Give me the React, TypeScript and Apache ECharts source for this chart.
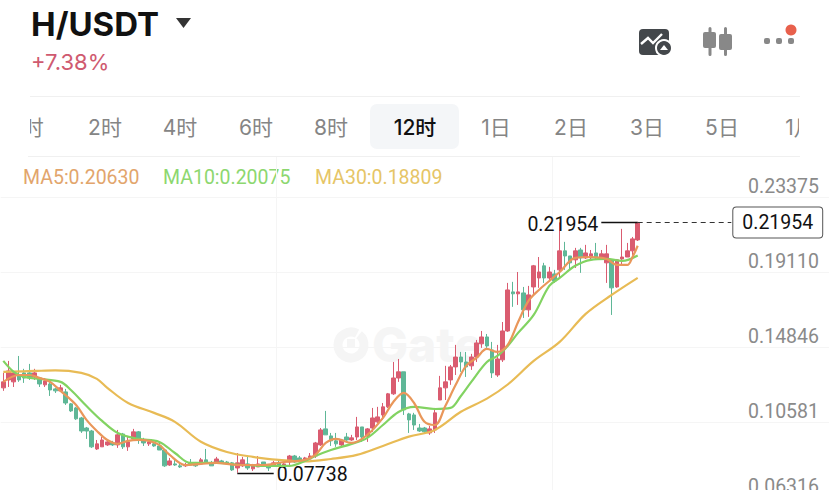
import { useEffect, useRef } from 'react'
import * as echarts from 'echarts'

// [open, close, low, high]
const candles: number[][] = [
  [.1256,.1290,.1239,.1341],[.1301,.1352,.1261,.1409],[.1290,.1341,.1261,.1341],[.1329,.1301,.1290,.1437],
  [.1341,.1312,.1284,.1364],[.1341,.1312,.1301,.1392],[.1318,.1341,.1301,.1364],[.1312,.1278,.1261,.1318],
  [.1273,.1295,.1261,.1312],[.1278,.1244,.1210,.1290],[.1250,.1239,.1227,.1256],[.1239,.1256,.1233,.1273],
  [.1233,.1170,.1159,.1250],[.1165,.1125,.1119,.1170],[.1142,.1080,.1074,.1148],[.1085,.1011,.1000,.1091],
  [.1028,.1011,.0966,.1034],[.1011,.0921,.0915,.1017],[.0909,.0938,.0903,.0960],[.0921,.0960,.0921,.0977],
  [.0932,.0949,.0926,.0955],[.0943,.0932,.0926,.0955],[.0932,.0989,.0915,.1017],[.0994,.0921,.0909,.1000],
  [.0921,.0949,.0898,.0983],[.0966,.1006,.0955,.1023],[.1006,.0960,.0938,.1011],[.0960,.0943,.0926,.0972],
  [.0938,.0949,.0926,.0960],[.0938,.0926,.0921,.0949],[.0926,.0903,.0903,.0943],[.0903,.0813,.0807,.0903],
  [.0818,.0841,.0813,.0858],[.0824,.0818,.0813,.0847],[.0813,.0807,.0801,.0830],[.0813,.0818,.0807,.0830],
  [.0830,.0818,.0818,.0852],[.0824,.0813,.0807,.0835],[.0824,.0847,.0824,.0858],[.0847,.0830,.0830,.0909],
  [.0824,.0813,.0813,.0841],[.0830,.0852,.0830,.0864],[.0841,.0830,.0824,.0847],[.0835,.0830,.0824,.0841],
  [.0830,.0790,.0784,.0835],[.0801,.0830,.07738,.0886],[.0813,.0847,.0807,.0864],[.0824,.0801,.0790,.0864],
  [.0796,.0813,.0784,.0824],[.0807,.0824,.0807,.0869],[.0835,.0818,.0818,.0835],[.0813,.0801,.0784,.0824],
  [.0813,.0830,.0807,.0841],[.0830,.0813,.0807,.0841],[.0813,.0824,.0807,.0835],[.0835,.0869,.0807,.0875],
  [.0869,.0835,.0830,.0875],[.0858,.0841,.0835,.0869],[.0841,.0858,.0835,.0864],[.0852,.0869,.0847,.0886],
  [.0869,.0943,.0858,.0949],[.0932,.1017,.0926,.1028],[.1023,.0989,.0989,.1125],[.0983,.0955,.0926,.1000],
  [.0955,.0938,.0921,.1000],[.0932,.0960,.0926,.0966],[.0977,.0960,.0955,.1000],[.0960,.0972,.0955,.0989],
  [.0977,.1034,.0960,.1091],[.1034,.0977,.0949,.1034],[.0983,.1023,.0949,.1028],[.1028,.1085,.1006,.1142],
  [.1063,.1091,.1057,.1148],[.1102,.1148,.1074,.1170],[.1148,.1222,.1142,.1227],[.1222,.1312,.1216,.1403],
  [.1312,.1347,.1290,.1420],[.1347,.1131,.1102,.1347],[.1108,.1074,.1000,.1114],[.1102,.1045,.1017,.1114],
  [.1028,.1011,.1006,.1051],[.1028,.1006,.0994,.1034],[.1000,.1023,.0989,.1040],[.1017,.1114,.1000,.1142],
  [.1187,.1256,.1187,.1324],[.1256,.1290,.1187,.1381],[.1301,.1375,.1273,.1386],[.1375,.1431,.1329,.1500],
  [.1431,.1403,.1347,.1460],[.1403,.1375,.1318,.1460],[.1381,.1431,.1358,.1449],[.1431,.1511,.1403,.1528],
  [.1506,.1545,.1483,.1579],[.1545,.1494,.1483,.1562],[.1471,.1341,.1312,.1517],[.1329,.1420,.1318,.1500],
  [.1415,.1579,.1403,.1630],[.1579,.1812,.1574,.1852],[.1801,.1790,.1716,.1858],[.1790,.1801,.1727,.1914],
  [.1795,.1699,.1653,.1829],[.1699,.1784,.1659,.1835],[.1829,.1949,.1784,.1954],[.1880,.1914,.1824,.1999],
  [.1949,.1880,.1852,.1966],[.1880,.1914,.1858,.1943],[.1903,.1863,.1852,.1926],[.1926,.2034,.1880,.21954],
  [.2034,.2005,.1926,.2085],[.2005,.1966,.1926,.2005],[.1983,.2034,.1937,.2051],[.2039,.1994,.1909,.2051],
  [.1994,.2022,.1988,.2068],[.1994,.2017,.1983,.2039],[.2022,.1999,.1983,.2079],[.1994,.2017,.1983,.2039],
  [.1966,.2017,.1852,.2068],[.1983,.1824,.1670,.1983],[.1829,.1983,.1824,.1988],[.1988,.1999,.1954,.2159],
  [.1999,.2034,.1999,.2079],[.2034,.2102,.2011,.2113],[.2096,.21954,.2090,.21954],
]

// 均线读点: [candle index, value]
const ma5Points = [
  [0,.1290],[3,.1329],[5,.1329],[7,.1312],[9,.1290],[11,.1239],[14,.1159],[16,.1074],[18,.1011],[20,.0960],
  [22,.0938],[24,.0955],[26,.0960],[28,.0955],[30,.0932],[32,.0875],[35,.0818],[38,.0824],[41,.0830],[45,.0818],
  [50,.0818],[54,.0835],[58,.0847],[60,.0875],[62,.0943],[64,.0966],[67,.0943],[70,.0989],[73,.1085],[75,.1176],
  [77,.1227],[79,.1170],[81,.1063],[83,.1045],[85,.1153],[87,.1273],[89,.1381],[91,.1426],[93,.1477],[95,.1460],
  [97,.1500],[99,.1630],[101,.1750],[103,.1812],[105,.1863],[107,.1914],[110,.1994],[113,.1999],[116,.1988],
  [118,.1954],[120,.1954],[121,.1999],[122,.20630],
]
const ma10Points = [
  [0,.1409],[2,.1347],[4,.1318],[7,.1307],[11,.1290],[13,.1244],[16,.1153],[19,.1068],[22,.1000],[26,.0966],
  [30,.0949],[33,.0886],[36,.0830],[41,.0830],[46,.0818],[51,.0813],[55,.0813],[58,.0841],[60,.0869],[63,.0903],
  [67,.0938],[70,.0972],[73,.1045],[76,.1119],[79,.1148],[83,.1136],[86,.1142],[88,.1210],[90,.1290],[93,.1403],
  [95,.1437],[97,.1494],[99,.1568],[102,.1670],[105,.1835],[107,.1880],[110,.1949],[113,.1983],[116,.1988],
  [119,.1977],[122,.20075],
]
const ma30Points = [
  [0,.1347],[6,.1352],[10,.1355],[15,.1341],[18,.1307],[20,.1256],[24,.1170],[29,.1114],[33,.1063],[38,.0950],
  [43,.0892],[48,.0864],[53,.0847],[58,.0838],[63,.0852],[68,.0875],[73,.0926],[78,.0979],[83,.1017],[88,.1120],
  [93,.1195],[97,.1275],[102,.1409],[107,.1517],[112,.1676],[117,.1784],[122,.18809],
]

const priceTicks = [0.06316, 0.10581, 0.14846, 0.19110, 0.23375]
const highPrice = 0.21954
const lowPrice = 0.07738
const lastPrice = 0.21954
const tabLabels = ['1时', '2时', '4时', '6时', '8时', '12时', '1日', '2日', '3日', '5日', '1月']
const legendLabels = ['MA5:0.20630', 'MA10:0.20075', 'MA30:0.18809']

// 右边留白也占类目
const categories = Array.from({ length: 160 }, (_, i) => String(i))

const FONT = 'Inter, "Noto Sans CJK SC", sans-serif'
const NUM_FONT = 'Roboto, sans-serif'
const MA5_COLOR = '#e9975a'
const MA10_COLOR = '#82d362'
const MA30_COLOR = '#e8bb55'

const tabX = [29, 105, 180, 256, 331, 415, 496, 571, 647, 722, 800]
const legendX = [23, 163, 315]
const legendColors = ['#e2a56c', '#8dd76f', '#e6c566']

function maSeries(name: string, data: number[][], color: string) {
  return {
    name,
    type: 'line',
    data,
    smooth: 0.35,
    showSymbol: false,
    silent: true,
    z: 5,
    lineStyle: { color, width: 2.2 },
  }
}

function headerGraphics() {
  const items: any[] = [
    // 水印
    { type: 'arc', z: -1, shape: { cx: 351, cy: 345, r: 13, startAngle: -0.9, endAngle: 5.2 }, style: { stroke: '#f5f5f5', lineWidth: 9, fill: 'none' } },
    { type: 'rect', z: -1, shape: { x: 347, y: 339, width: 8, height: 8 }, style: { fill: '#f5f5f5' } },
    { type: 'text', z: -1, x: 372, y: 344, style: { text: 'Gate', font: `800 48px ${FONT}`, fill: '#f5f5f5', verticalAlign: 'middle' } },

    { type: 'text', x: 31, y: 24, style: { text: 'H/USDT', font: `700 33px ${FONT}`, fill: '#111', verticalAlign: 'middle' } },
    { type: 'polygon', shape: { points: [[176, 18], [191, 18], [183.5, 28]] }, style: { fill: '#333' } },
    { type: 'text', x: 31, y: 62, style: { text: '+7.38%', font: `400 22px ${FONT}`, fill: '#cf5a70', verticalAlign: 'middle' } },

    { type: 'line', shape: { x1: 30, y1: 96.5, x2: 800, y2: 96.5 }, style: { stroke: '#f0f0f0', lineWidth: 1 } },
    { type: 'line', shape: { x1: 28, y1: 156.5, x2: 800, y2: 156.5 }, style: { stroke: '#f0f0f0', lineWidth: 1 } },
    { type: 'rect', shape: { x: 370, y: 104, width: 89, height: 45, r: 7 }, style: { fill: '#f4f6f8' } },

    // 图片图标
    { type: 'rect', shape: { x: 639, y: 29, width: 30, height: 26, r: 4 }, style: { fill: '#43474b' } },
    { type: 'polyline', shape: { points: [[641, 44], [648, 38], [653, 43], [662, 34]] }, style: { stroke: '#fff', lineWidth: 2.4, fill: 'none' } },
    { type: 'circle', shape: { cx: 664, cy: 48, r: 8 }, style: { fill: '#43474b', stroke: '#fff', lineWidth: 2 } },
    { type: 'polygon', shape: { points: [[660, 50], [668, 50], [664, 45]] }, style: { fill: '#fff' } },

    // K线图标
    { type: 'rect', shape: { x: 708.5, y: 27, width: 3, height: 29, r: 1.5 }, style: { fill: '#888' } },
    { type: 'rect', shape: { x: 703, y: 32, width: 13, height: 16, r: 2 }, style: { fill: '#888' } },
    { type: 'rect', shape: { x: 724, y: 27, width: 3, height: 29, r: 1.5 }, style: { fill: '#888' } },
    { type: 'rect', shape: { x: 719, y: 34, width: 13, height: 16, r: 2 }, style: { fill: '#888' } },

    { type: 'rect', shape: { x: 764, y: 38, width: 6, height: 6, r: 2 }, style: { fill: '#888' } },
    { type: 'rect', shape: { x: 776, y: 38, width: 6, height: 6, r: 2 }, style: { fill: '#888' } },
    { type: 'rect', shape: { x: 788, y: 38, width: 6, height: 6, r: 2 }, style: { fill: '#888' } },
    { type: 'circle', shape: { cx: 791, cy: 30, r: 5.5 }, style: { fill: '#e8604c' } },
  ]

  tabLabels.forEach((label, i) => {
    const active = label === '12时'
    items.push({
      type: 'text',
      x: tabX[i],
      y: 127,
      style: {
        text: label,
        font: `${active ? 500 : 400} 21px ${FONT}`,
        fill: active ? '#111' : '#858585',
        align: 'center',
        verticalAlign: 'middle',
      },
    })
  })
  // 两端被裁掉的标签
  items.push({ type: 'rect', z: 10, shape: { x: 0, y: 100, width: 30, height: 52 }, style: { fill: '#fff' } })
  items.push({ type: 'rect', z: 10, shape: { x: 799, y: 100, width: 30, height: 52 }, style: { fill: '#fff' } })

  legendLabels.forEach((label, i) => {
    items.push({
      type: 'text',
      x: legendX[i],
      y: 177,
      style: { text: label, font: `400 19.5px ${NUM_FONT}`, fill: legendColors[i], verticalAlign: 'middle' },
    })
  })
  return items
}

const App: React.FC = () => {
  const chartRef = useRef<HTMLDivElement>(null)

  useEffect(() => {
    if (!chartRef.current) return
    const mychart = echarts.init(chartRef.current, undefined, { renderer: 'svg' })
    const option: any = {
      animation: false,
      backgroundColor: '#fff',
      // 底部和右边超出画布,要关掉 outerBounds
      grid: { left: 0.7, top: 157, width: 832, height: 340.8, outerBoundsMode: 'none' },
      graphic: headerGraphics(),
      xAxis: {
        type: 'category',
        data: categories,
        axisLine: { show: false },
        axisTick: { show: false },
        axisLabel: { show: false },
        splitLine: {
          show: true,
          interval: (i: number) => i === 53 || i === 106,
          lineStyle: { color: '#f5f5f5', width: 1 },
        },
      },
      yAxis: {
        type: 'value',
        position: 'right',
        min: 0.06316,
        max: 0.2567,
        axisLine: { show: false },
        axisTick: { show: false, customValues: priceTicks },
        splitLine: { show: true, lineStyle: { color: '#f5f5f5', width: 1 } },
        axisLabel: {
          inside: true,
          margin: 13.7,
          customValues: priceTicks,
          formatter: (v: number) => v.toFixed(5),
          color: '#8a8a8a',
          fontFamily: NUM_FONT,
          fontSize: 19.5,
          verticalAlign: 'bottom',
          padding: [0, 0, 1, 0],
        },
      },
      series: [
        {
          type: 'candlestick',
          data: candles,
          barWidth: 4,
          silent: true,
          z: 3,
          itemStyle: {
            color: '#da5c70',
            color0: '#5fb797',
            borderColor: '#da5c70',
            borderColor0: '#5fb797',
            borderWidth: 1,
          },
          markLine: {
            silent: true,
            symbol: 'none',
            data: [
              [
                {
                  coord: [115, highPrice],
                  lineStyle: { color: '#111', type: 'solid', width: 1.3 },
                  label: { show: true, position: 'start', distance: 2, offset: [-1, 2], formatter: highPrice.toFixed(5), color: '#111', fontFamily: NUM_FONT, fontSize: 19.5 },
                },
                { coord: [122, highPrice] },
              ],
              [
                {
                  coord: [45, lowPrice],
                  lineStyle: { color: '#111', type: 'solid', width: 1.3 },
                  label: { show: true, position: 'end', distance: 2, offset: [1, 2], formatter: lowPrice.toFixed(5), color: '#111', fontFamily: NUM_FONT, fontSize: 19.5 },
                },
                { coord: [52, lowPrice] },
              ],
              [
                {
                  coord: [122, lastPrice],
                  lineStyle: { color: '#333', type: [5, 4], width: 1 },
                  label: {
                    show: true,
                    position: 'end',
                    distance: 2,
                    formatter: lastPrice.toFixed(5),
                    color: '#111',
                    fontFamily: NUM_FONT,
                    fontSize: 19.5,
                    backgroundColor: '#fff',
                    borderColor: '#555',
                    borderWidth: 1,
                    borderRadius: 3,
                    padding: [5, 9],
                  },
                },
                { coord: [140, lastPrice] },
              ],
            ],
          },
        },
        maSeries('MA30', ma30Points, MA30_COLOR),
        maSeries('MA10', ma10Points, MA10_COLOR),
        maSeries('MA5', ma5Points, MA5_COLOR),
      ],
    }
    mychart.setOption(option)
    return () => {
      mychart.dispose()
    }
  }, [])

  return <div ref={chartRef} style={{ position: 'fixed', left: 0, top: 0, width: '829px', height: '490px' }}></div>
}

export default App
